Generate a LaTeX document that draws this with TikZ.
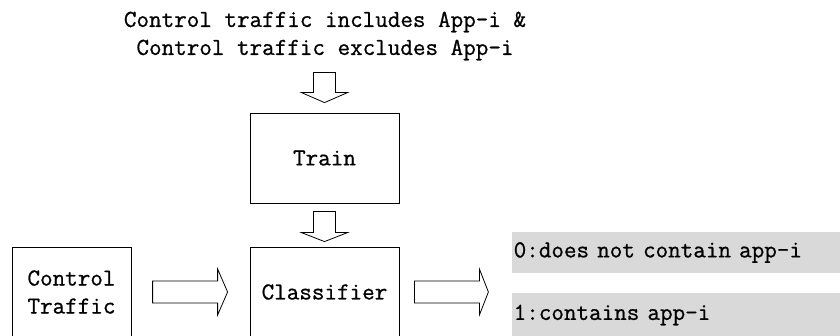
\documentclass[tikz,border=0pt]{standalone}
\usepackage{fontspec}
\setmonofont{Latin Modern Mono}[FakeBold=0.8]
\usepackage{tikz}
\usetikzlibrary{positioning,calc}

\tikzset{
    stage/.style={draw,line width=0.8pt,minimum width=149pt,minimum height=90pt,inner sep=0pt,align=center},
    label/.style={fill=black!15,anchor=west,text width=330pt,inner xsep=1.5pt,inner ysep=0pt,align=left},
    blockarrow/.style={draw,line width=0.8pt,line join=miter}
}

\begin{document}
\begin{tikzpicture}[x=1pt,y=-1pt,font=\ttfamily\fontsize{24.4}{28}\selectfont]
            \useasboundingbox (0,0) rectangle (840,336);
            \clip (0,0) rectangle (840,336);
            \node (title) [align=center] at (325,36) {Control traffic includes App-i \&\\Control traffic excludes App-i};
            \node (train) [stage] at (324.5,158) {Train};
            \node (classifier) [stage] at (324.5,292) {Classifier};
            \node (control) [stage,minimum width=119pt] at (71.5,292) {Control\\Traffic};
            \node (out0) [label,minimum height=41pt] at (512,252.5) {0:does not contain app-i};
            \node (out1) [label,minimum height=44pt] at (512,315) {1:contains app-i};
            \draw[blockarrow] ([yshift=10pt]train.north) -- ++(23,-10) -- ++(-12,0) -- ++(0,-20) -- ++(-22,0) -- ++(0,20) -- ++(-12,0) -- cycle;
            \draw[blockarrow] ([yshift=5pt]classifier.north) -- ++(23,-9) -- ++(-12,0) -- ++(0,-21) -- ++(-22,0) -- ++(0,21) -- ++(-12,0) -- cycle;
            \draw[blockarrow] ([xshift=-22pt]classifier.west) -- ++(-10,-23) -- ++(0,12) -- ++(-65,0) -- ++(0,22) -- ++(65,0) -- ++(0,12) -- cycle;
            \draw[blockarrow] ([xshift=89pt]classifier.east) -- ++(-9,-23) -- ++(0,12) -- ++(-65,0) -- ++(0,22) -- ++(65,0) -- ++(0,12) -- cycle;
\end{tikzpicture}
\end{document}
